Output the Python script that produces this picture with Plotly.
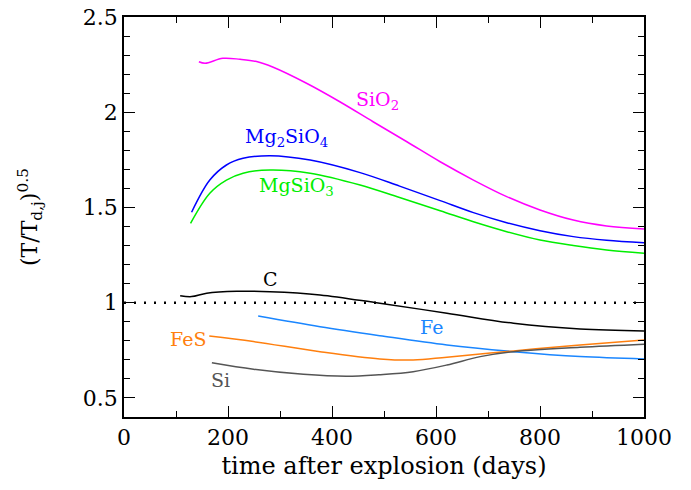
import plotly.graph_objects as go

# ---- data (days, (T/T_dj)^0.5) ----
sio2_t = [144, 156, 190, 223, 255, 287, 351, 415, 479, 544, 608, 672, 736, 800, 864, 928, 1000]
sio2_v = [2.265, 2.257, 2.283, 2.278, 2.266, 2.236, 2.152, 2.055, 1.950, 1.845, 1.740, 1.644, 1.557, 1.487, 1.434, 1.403, 1.387]

mg2sio4_t = [130, 165, 197, 229, 281, 358, 454, 530, 608, 672, 736, 800, 864, 928, 1000]
mg2sio4_v = [1.475, 1.644, 1.723, 1.758, 1.772, 1.749, 1.683, 1.612, 1.536, 1.473, 1.420, 1.378, 1.347, 1.328, 1.315]

mgsio3_t = [128, 165, 197, 229, 281, 358, 454, 530, 608, 672, 736, 800, 864, 928, 1000]
mgsio3_v = [1.417, 1.575, 1.644, 1.680, 1.697, 1.680, 1.618, 1.552, 1.483, 1.425, 1.373, 1.329, 1.300, 1.277, 1.260]

c_t = [108, 130, 159, 217, 281, 377, 492, 621, 749, 877, 1000]
c_v = [1.037, 1.032, 1.050, 1.060, 1.058, 1.041, 0.997, 0.945, 0.892, 0.862, 0.852]

fe_t = [258, 377, 492, 621, 749, 877, 1000]
fe_v = [0.930, 0.874, 0.827, 0.778, 0.743, 0.717, 0.705]

fes_t = [164, 249, 377, 492, 556, 621, 749, 877, 1000]
fes_v = [0.825, 0.796, 0.743, 0.705, 0.699, 0.714, 0.747, 0.778, 0.804]

si_t = [169, 249, 345, 428, 490, 556, 621, 685, 749, 877, 1000]
si_v = [0.685, 0.651, 0.624, 0.614, 0.622, 0.638, 0.673, 0.717, 0.743, 0.766, 0.782]

ref_level = 1.0
x_ticks = [0, 200, 400, 600, 800, 1000]
y_ticks = [0.5, 1, 1.5, 2, 2.5]
y_tick_text = ["0.5", "1", "1.5", "2", "2.5"]

# label texts and positions (days, value)
labels = [
    ("SiO<sub>2</sub>", 488, 2.06, "#ff00ff"),
    ("Mg<sub>2</sub>SiO<sub>4</sub>", 313, 1.865, "#0000ff"),
    ("MgSiO<sub>3</sub>", 331, 1.61, "#00ee00"),
    ("C", 281, 1.125, "#000000"),
    ("Fe", 592, 0.873, "#1a86ff"),
    ("FeS", 123, 0.81, "#ff7f0e"),
    ("Si", 185, 0.595, "#555555"),
]

series = [
    (sio2_t, sio2_v, "#ff00ff"),
    (mg2sio4_t, mg2sio4_v, "#0000ff"),
    (mgsio3_t, mgsio3_v, "#00ee00"),
    (c_t, c_v, "#000000"),
    (fe_t, fe_v, "#1a86ff"),
    (fes_t, fes_v, "#ff7f0e"),
    (si_t, si_v, "#555555"),
]

FONT = "DejaVu Serif"

fig = go.Figure()
for t, v, col in series:
    fig.add_trace(go.Scatter(x=t, y=v, mode="lines",
                             line=dict(color=col, width=1.5, shape="spline", smoothing=1.0),
                             showlegend=False, hoverinfo="skip"))

fig.add_hline(y=ref_level, line=dict(color="black", width=2.5, dash="2px,8px"))

for txt, x, y, col in labels:
    fig.add_annotation(x=x, y=y, text=txt, showarrow=False,
                       font=dict(family=FONT, size=19, color=col))

fig.add_annotation(xref="paper", yref="paper", x=0, y=0.5, xshift=-94,
                   xanchor="center", yanchor="middle",
                   text="(T/T<sub>d,j</sub>)<sup>0.5</sup>", textangle=-90,
                   showarrow=False, font=dict(family=FONT, size=22, color="black"))

axis_common = dict(
    showline=True, linecolor="black", linewidth=1.5, mirror="allticks",
    ticks="inside", ticklen=11, tickwidth=1.3, tickcolor="black",
    showgrid=False, zeroline=False, ticklabeloverflow="allow",
    tickfont=dict(family=FONT, size=22, color="black"),
)

fig.update_xaxes(range=[0, 1000], tickvals=x_ticks,
                 minor=dict(ticks="inside", dtick=100, ticklen=6, tickwidth=1.3, tickcolor="black", showgrid=False),
                 title=dict(text="time after explosion (days)", font=dict(family=FONT, size=24, color="black"), standoff=8),
                 **axis_common)
fig.update_yaxes(range=[0.4, 2.5], tickvals=y_ticks, ticktext=y_tick_text,
                 minor=dict(ticks="inside", dtick=0.1, tick0=0, ticklen=6, tickwidth=1.3, tickcolor="black", showgrid=False),
                 **axis_common)

fig.update_layout(
    width=691, height=490,
    margin=dict(l=124, r=47, t=17, b=73, autoexpand=False),
    paper_bgcolor="white", plot_bgcolor="white",
    font=dict(family=FONT, color="black"),
)

# remove the page's default body margin so the figure fills the window exactly
fig.write_html("out.html", config={"displayModeBar": False},
               post_script="document.body.style.margin='0';")
